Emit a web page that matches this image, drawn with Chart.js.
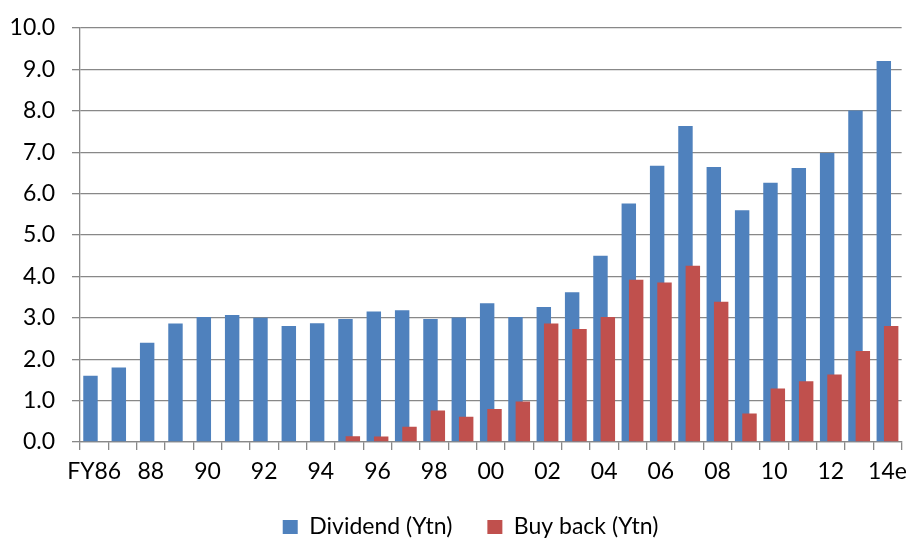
<!DOCTYPE html>
<html>
<head>
<meta charset="utf-8">
<script src="https://cdn.jsdelivr.net/npm/chart.js@4/dist/chart.umd.min.js"></script>
<style>
  html, body { margin: 0; padding: 0; background: #fff; }
  #wrap { width: 915px; height: 538px; position: relative; }
</style>
</head>
<body>
<div id="wrap"><canvas id="chart"></canvas></div>
<script>
// fiscal years, FY86 .. FY14e
const years = ['FY86', '87', '88', '89', '90', '91', '92', '93', '94', '95',
    '96', '97', '98', '99', '00', '01', '02', '03', '04', '05',
    '06', '07', '08', '09', '10', '11', '12', '13', '14e'];

const dividend = [1.6, 1.8, 2.4, 2.86, 3.02, 3.07, 3.0, 2.8, 2.87, 2.97,
    3.15, 3.18, 2.97, 3.01, 3.35, 3.02, 3.26, 3.62, 4.5, 5.76,
    6.67, 7.63, 6.64, 5.6, 6.26, 6.62, 6.98, 8.01, 9.2];

const buyback = [0, 0, 0, 0, 0, 0, 0, 0, 0, 0.14,
    0.13, 0.37, 0.76, 0.61, 0.8, 0.98, 2.86, 2.73, 3.02, 3.92,
    3.85, 4.26, 3.39, 0.69, 1.29, 1.47, 1.63, 2.2, 2.8];

const yTicks = [0, 1, 2, 3, 4, 5, 6, 7, 8, 9, 10];

const FONT = 'Lato, "Open Sans", sans-serif';
const GRID = '#888888';

// Excel draws the second series over the first where they overlap
const drawInOrder = {
    id: 'drawInOrder',
    beforeDatasetsDraw(chart) {
        chart.data.datasets.forEach((ds, i) => {
            const meta = chart.getDatasetMeta(i);
            if (!meta.visible) return;
            if (chart._drawDataset) chart._drawDataset(meta);
            else meta.controller.draw();
        });
        return false;
    }
};

// legend sits a bit right of the canvas centre in the original
const legendShift = {
    id: 'legendShift',
    afterLayout(chart) {
        if (!chart.legend) return;
        chart.legend.left += 16;
        chart.legend.right += 16;
    }
};

new Chart(document.getElementById('chart'), {
    type: 'bar',
    data: {
        labels: years,
        datasets: [{
            label: 'Dividend (Ytn)',
            data: dividend,
            backgroundColor: '#4F81BD',
            categoryPercentage: 0.52,
            barPercentage: 1.96
        }, {
            label: 'Buy back (Ytn)',
            data: buyback,
            backgroundColor: '#C0504D',
            categoryPercentage: 0.52,
            barPercentage: 1.96
        }]
    },
    options: {
        responsive: true,
        maintainAspectRatio: false,
        animation: false,
        layout: { padding: { top: 28, right: 6, left: 0, bottom: -10.5 } },
        plugins: {
            tooltip: { enabled: false },
            legend: {
                position: 'bottom',
                labels: {
                    boxWidth: 15,
                    boxHeight: 14,
                    padding: 35,
                    color: '#000',
                    font: { family: FONT, size: 23 }
                }
            }
        },
        scales: {
            x: {
                afterFit: (scale) => { scale.height = 38.5; },
                grid: {
                    offset: true,
                    drawOnChartArea: false,
                    tickLength: 8,
                    color: GRID,
                    lineWidth: 1.3
                },
                border: { color: GRID, width: 1.3 },
                ticks: {
                    autoSkip: false,
                    maxRotation: 0,
                    padding: 8,
                    color: '#000',
                    font: { family: FONT, size: 23 },
                    callback: (v, i) => (i % 2 === 0 ? years[i] : '')
                }
            },
            y: {
                min: yTicks[0],
                max: yTicks[yTicks.length - 1],
                afterBuildTicks: (scale) => {
                    scale.ticks = yTicks.map(v => ({ value: v }));
                },
                afterFit: (scale) => {
                    scale.width = 80;
                    scale.paddingTop = 0;
                    scale.paddingBottom = 0;
                },
                grid: { color: GRID, lineWidth: 1.3, tickLength: 8 },
                border: { color: GRID, width: 1.3 },
                ticks: {
                    padding: 17,
                    color: '#000',
                    font: { family: FONT, size: 23 },
                    callback: (v) => v.toFixed(1)
                }
            }
        }
    },
    plugins: [drawInOrder, legendShift]
});
</script>
</body>
</html>
